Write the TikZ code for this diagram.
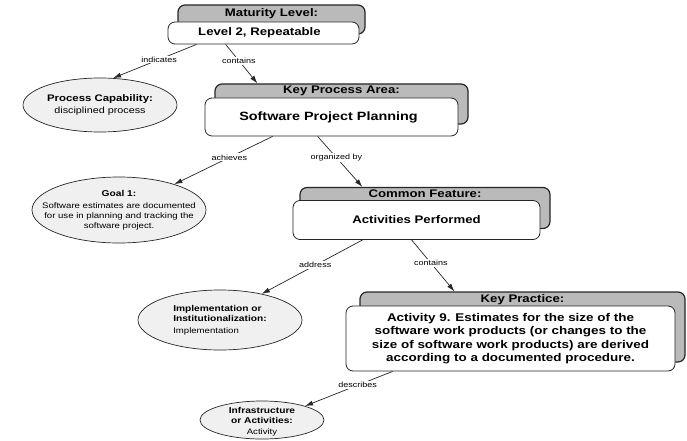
\documentclass[tikz,border=0pt]{standalone}
\usepackage{fontspec}
\setmainfont{Liberation Sans}[FakeStretch=1.2]
\usetikzlibrary{arrows.meta,shapes.geometric}
\begin{document}
\begin{tikzpicture}[x=1pt,y=-1pt,
  backbox/.style={draw=black!85, line width=1.2pt, fill=black!27, rounded corners=7pt, inner sep=0pt},
  frontbox/.style={draw=black!85, line width=0.8pt, fill=white, rounded corners=7pt, inner sep=0pt,
    align=center, font=\bfseries\fontsize{11}{13}\selectfont},
  headtext/.style={font=\bfseries\fontsize{11}{13}\selectfont, inner sep=0pt, anchor=mid},
  oval/.style={ellipse, draw=black!85, line width=0.7pt, fill=black!6, inner sep=0pt},
  ovaltext/.style={align=center, inner sep=0pt, font=\fontsize{8}{10}\selectfont},
  conn/.style={draw=black!85, line width=0.7pt, -{Latex[length=8pt,width=5pt]}},
  lbl/.style={fill=white, inner sep=1.2pt, font=\fontsize{7.5}{9}\selectfont}
]
\useasboundingbox (0,0) rectangle (687,441);

% Maturity level
\node[backbox, minimum width=187pt, minimum height=29pt] (mlback) at (271.5,19.5) {};
\node[headtext] (mlhead) at ([yshift=-9pt]mlback.north) {Maturity Level:};
\node[frontbox, minimum width=191pt, minimum height=22pt] (mlfront) at (263.5,33) {Level 2, Repeatable\hspace*{8pt}};

% Process capability
\node[oval, minimum width=154pt, minimum height=54pt] (pc) at (100,105) {};
\node[ovaltext, font=\fontsize{9}{11}\selectfont] (pctext) at (pc)
  {\textbf{\fontsize{9.5}{11}\selectfont Process Capability:}\\[1pt] disciplined process};

% Key process area
\node[backbox, minimum width=253pt, minimum height=40pt] (kpaback) at (341.5,104) {};
\node[headtext] (kpahead) at ([yshift=-7.5pt]kpaback.north) {Key Process Area:};
\node[frontbox, minimum width=253pt, minimum height=38pt, font=\bfseries\fontsize{12}{14}\selectfont] (kpafront) at (331.5,117) {Software Project Planning\hspace*{6pt}};

% Goal
\node[oval, minimum width=174pt, minimum height=66pt] (goal) at (119,210) {};
\node[ovaltext] (goaltext) at (goal) {\textbf{\fontsize{8.5}{10}\selectfont Goal 1:}\\[2pt]
  Software estimates are documented\\ for use in planning and tracking the\\ software project.};

% Common feature
\node[backbox, minimum width=250pt, minimum height=41pt] (cfback) at (425,208) {};
\node[headtext] (cfhead) at ([yshift=-7.5pt]cfback.north) {Common Feature:};
\node[frontbox, minimum width=247pt, minimum height=39pt] (cffront) at (416.5,220) {Activities Performed};

% Implementation or institutionalization
\node[oval, minimum width=164pt, minimum height=60pt] (impl) at (220,320) {};
\node[ovaltext, align=left] (impltext) at (impl) {\textbf{\fontsize{8.5}{10}\selectfont Implementation or}\\
  \textbf{\fontsize{8.5}{10}\selectfont Institutionalization:}\\[2pt] Implementation};

% Key practice
\node[backbox, minimum width=325pt, minimum height=70pt] (kpback) at (522.5,327) {};
\node[headtext] (kphead) at ([yshift=-8pt]kpback.north) {Key Practice:};
\node[frontbox, minimum width=329pt, minimum height=65pt, font=\bfseries\fontsize{11.2}{13.5}\selectfont] (kpfront) at (510.5,338.5)
  {Activity 9. Estimates for the size of the\\ software work products (or changes to the\\
   size of software work products) are derived\\ according to a documented procedure.};

% Infrastructure or activities
\node[oval, minimum width=124pt, minimum height=38pt] (infra) at (262,420) {};
\node[ovaltext] (infratext) at ([yshift=-1.5pt]infra.center) {\textbf{\fontsize{8.5}{10}\selectfont Infrastructure}\\
  \textbf{\fontsize{8.5}{10}\selectfont or Activities:}\\[1pt] Activity};

% Connectors
\draw[conn] ([xshift=29pt]mlfront.south west) -- node[lbl, pos=0.45]{indicates} (pc.64);
\draw[conn] ([xshift=58pt]mlfront.south west) -- node[lbl, pos=0.42]{contains} ([xshift=43pt]kpaback.north west);
\draw[conn] ([xshift=68pt]kpafront.south west) -- node[lbl, pos=0.44]{achieves} (goal.25);
\draw[conn] ([xshift=113pt]kpafront.south west) -- node[lbl, pos=0.42]{organized by} ([xshift=63pt]cfback.north west);
\draw[conn] ([xshift=70pt]cffront.south west) -- node[lbl, pos=0.47]{address} (impl.32);
\draw[conn] ([xshift=119pt]cffront.south west) -- node[lbl, pos=0.45]{contains} ([xshift=95pt]kpback.north west);
\draw[conn] ([xshift=47pt]kpfront.south west) -- node[lbl, pos=0.4]{describes} (infra.18);
\end{tikzpicture}
\end{document}
